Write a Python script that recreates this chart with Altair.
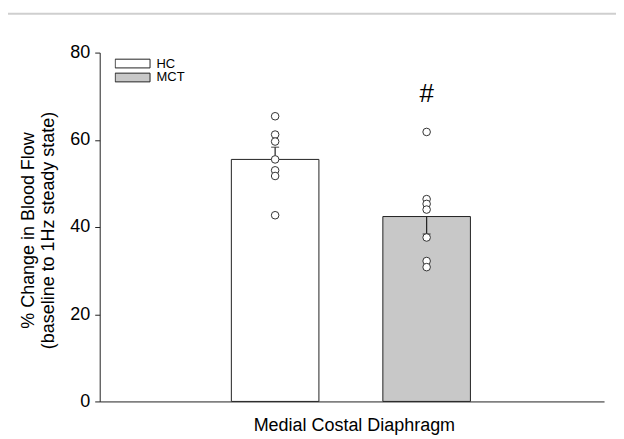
import altair as alt
import pandas as pd

# ---- data ----
groups = ["HC", "MCT"]
means = [55.5, 42.4]
err_lo = [55.5, 38.4]
err_hi = [58.3, 42.4]
err_cap = [58.3, 38.4]
hc_values = [65.4, 61.2, 59.6, 55.5, 53.0, 51.7, 42.7]
mct_values = [61.8, 46.4, 45.3, 44.0, 37.6, 32.2, 30.8]
y_ticks = [0, 20, 40, 60, 80]
sig_label = "#"
sig_y = 70.6
bar_colors = ["white", "#c8c8c8"]

FONT = "Liberation Sans"
W, H = 506, 350
HALF = 0.289

pos = {g: i + 1 for i, g in enumerate(groups)}
bars = pd.DataFrame({
    "group": groups,
    "pos": [pos[g] for g in groups],
    "mean": means,
    "lo": err_lo,
    "hi": err_hi,
    "cap": err_cap,
})
bars["x0"] = bars["pos"] - HALF
bars["x1"] = bars["pos"] + HALF

pts = pd.DataFrame({
    "group": ["HC"] * len(hc_values) + ["MCT"] * len(mct_values),
    "value": hc_values + mct_values,
})
pts["pos"] = pts["group"].map(pos)

sig = pd.DataFrame({"pos": [pos["MCT"]], "y": [sig_y], "t": [sig_label]})

xscale = alt.Scale(domain=[-0.158, 3.171], nice=False, zero=False)
yscale = alt.Scale(domain=[0, 80], nice=False)

xaxis = alt.Axis(title="Medial Costal Diaphragm", labels=False, ticks=False, grid=False,
                 domainColor="#222", titleFontSize=18, titleFont=FONT, titleFontWeight="normal",
                 titleColor="black", titlePadding=15, titleX=255)
yaxis = alt.Axis(values=y_ticks, title=["% Change in Blood Flow", "(baseline to 1Hz steady state)"],
                 grid=False, tickSize=5, tickColor="#222", domainColor="#222",
                 labelFontSize=18, labelFont=FONT, labelColor="black", labelPadding=5,
                 titleFontSize=18, titleFont=FONT, titleFontWeight="normal", titleColor="black",
                 titleLineHeight=20, titleX=-62, titleY=178, titleAlign="center")

legend = alt.Legend(title=None, orient="none", legendX=15, legendY=4, padding=0,
                    symbolType="M-1,-0.25L1,-0.25L1,0.25L-1,0.25Z", symbolSize=1225,
                    symbolStrokeColor="#222", symbolStrokeWidth=1, symbolOpacity=1,
                    labelFontSize=13, labelFont=FONT, labelColor="black", labelOffset=6,
                    clipHeight=14, rowPadding=0)

bar_layer = alt.Chart(bars).mark_rect(stroke="#222", strokeWidth=1).encode(
    x=alt.X("x0:Q", scale=xscale, axis=xaxis),
    x2="x1:Q",
    y=alt.Y("mean:Q", scale=yscale, axis=yaxis),
    y2=alt.datum(0),
    fill=alt.Fill("group:N", scale=alt.Scale(domain=groups, range=bar_colors), legend=legend),
)

err_layer = alt.Chart(bars).mark_rule(color="#222", strokeWidth=1.2).encode(
    x="pos:Q", y="lo:Q", y2="hi:Q")
cap_layer = alt.Chart(bars).mark_tick(color="#222", orient="horizontal", size=8, thickness=1.2).encode(
    x="pos:Q", y="cap:Q")

pt_layer = alt.Chart(pts).mark_point(shape="circle", filled=False, fill="white", fillOpacity=1,
                                     stroke="#333", strokeWidth=1, size=58, opacity=1).encode(
    x="pos:Q", y="value:Q")

sig_layer = alt.Chart(sig).mark_text(fontSize=26, font=FONT, color="black", baseline="middle").encode(
    x="pos:Q", y="y:Q", text="t:N")

top_line = alt.Chart(sig).mark_rule(color="#cfcfcf", strokeWidth=2).encode(
    x=alt.value(-100), x2=alt.value(530), y=alt.value(-39))

chart = alt.layer(top_line, bar_layer, err_layer, cap_layer, pt_layer, sig_layer).properties(
    width=W, height=H,
    background="white",
    autosize=alt.AutoSizeParams(type="none"),
    padding={"left": 92, "top": 44, "right": 12, "bottom": 50},
).configure_view(stroke=None, strokeWidth=0)

chart.save("out.html", embed_options={"renderer": "svg", "actions": False})
